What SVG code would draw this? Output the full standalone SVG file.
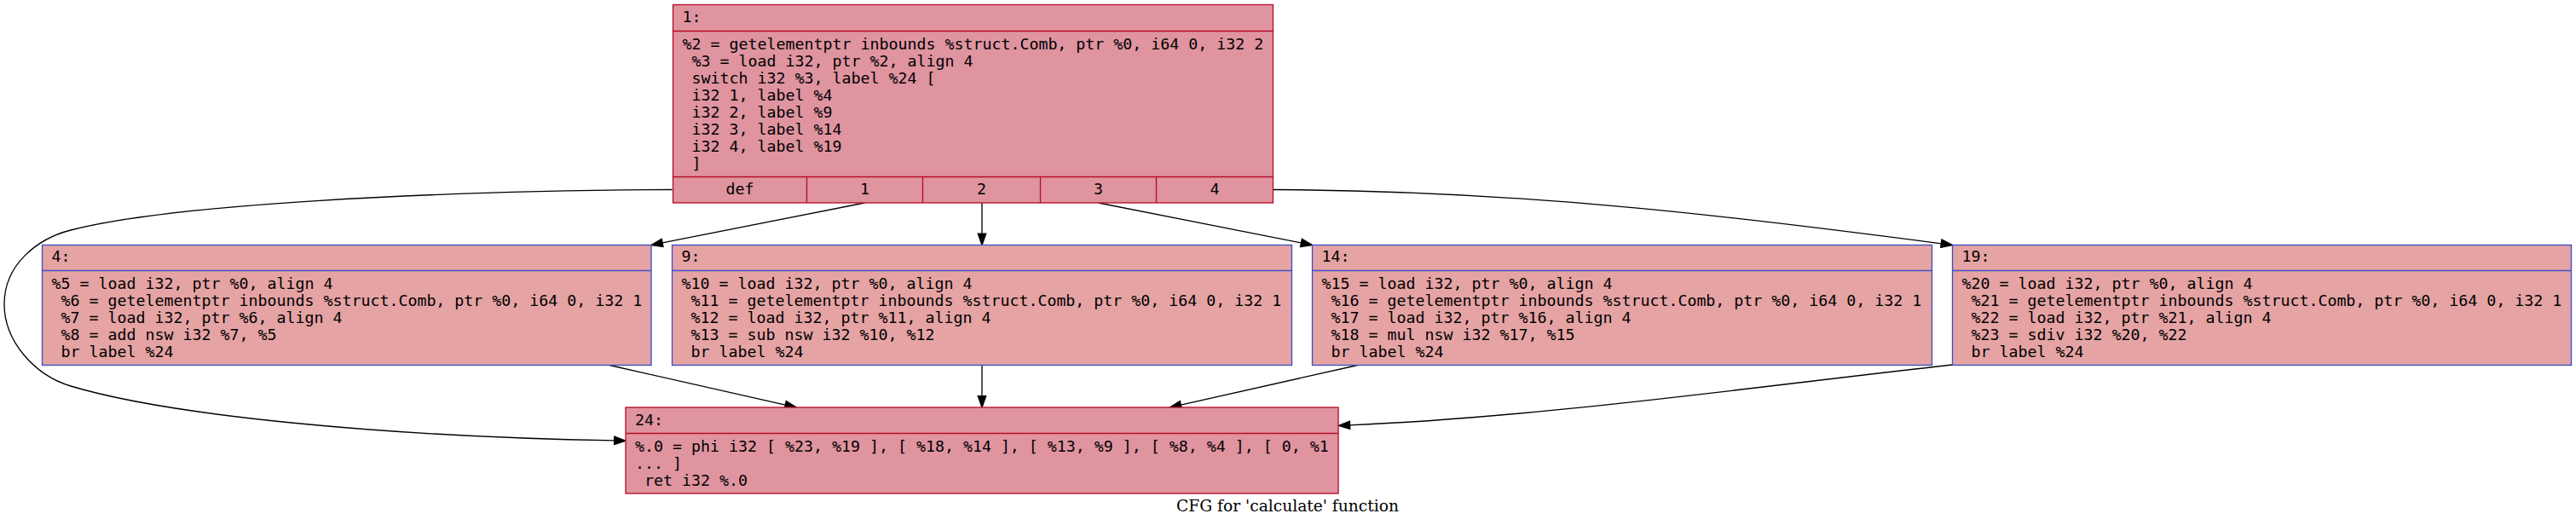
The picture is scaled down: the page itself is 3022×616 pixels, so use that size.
<svg xmlns="http://www.w3.org/2000/svg" width="3022" height="616" viewBox="0 0 3022 616">
<style>
.hot{fill:#df94a0;stroke:#b70d28;stroke-width:1.33}
.cold{fill:#e5a3a4;stroke:#3d50c3;stroke-width:1.33}
.hotl{fill:none;stroke:#b70d28;stroke-width:1.33}
.coldl{fill:none;stroke:#3d50c3;stroke-width:1.33}
.t{font-family:"DejaVu Sans Mono","Liberation Mono",monospace;font-size:18.27px;fill:#000}
.c{text-anchor:middle}
.e{fill:none;stroke:#000;stroke-width:1.33}
.a{fill:#000;stroke:#000;stroke-width:1.33}
.title{font-family:"DejaVu Serif","Liberation Serif",serif;font-size:18.67px;fill:#000;text-anchor:middle}
</style>
<rect width="3022" height="616" fill="#fff"/>
<g id="edges">
<path class="e" d="M788.5,222.5 C500,224 200,240 83,270 C44,280 5,310 5,357 C5,400 40,440 83,453 C200,488 450,512 720.7,516.9"/>
<polygon class="a" points="720.8,512.2 734,517.3 720.6,521.6"/>
<path class="e" d="M1014.5,238 L777.1,284.9"/>
<polygon class="a" points="776.2,280.3 764,287.5 778,289.5"/>
<path class="e" d="M1152,238 V274.2"/>
<polygon class="a" points="1147.3,274.2 1152,287.5 1156.7,274.2"/>
<path class="e" d="M1288.5,238 L1526.45,284.93"/>
<polygon class="a" points="1525.55,289.5 1539.5,287.5 1527.35,280.35"/>
<path class="e" d="M1493.5,222.5 C1800,224 2050,256 2277.3,285.8"/>
<polygon class="a" points="2276.7,290.4 2290.5,287.5 2277.9,281.1"/>
<path class="e" d="M715,428.5 L921.3,475.07"/>
<polygon class="a" points="920.3,479.6 934.3,478 922.3,470.5"/>
<path class="e" d="M1152,428.5 V464.7"/>
<polygon class="a" points="1147.3,464.7 1152,478 1156.7,464.7"/>
<path class="e" d="M1592.7,428.5 L1385.3,475.08"/>
<polygon class="a" points="1386.3,479.6 1372.3,478 1384.3,470.5"/>
<path class="e" d="M2290.5,428 C2050,455 1800,490 1583.6,498.8"/>
<polygon class="a" points="1583.8,503.45 1570.3,499.3 1583.4,494.1"/>
</g>
<g id="node1">
<rect class="hot" x="789.5" y="5.5" width="704" height="232.5"/>
<path class="hotl" d="M789.5,36.5 H1493.5 M789.5,207.5 H1493.5 M946.5,207.5 V238 M1082.5,207.5 V238 M1220.5,207.5 V238 M1356.5,207.5 V238"/>
<text class="t" x="800.5" y="26">1:</text>
<text class="t" x="800.5" y="57.5">%2 = getelementptr inbounds %struct.Comb, ptr %0, i64 0, i32 2</text>
<text class="t" x="811.5" y="77.5">%3 = load i32, ptr %2, align 4</text>
<text class="t" x="811.5" y="97.5">switch i32 %3, label %24 [</text>
<text class="t" x="811.5" y="117.5">i32 1, label %4</text>
<text class="t" x="811.5" y="137.5">i32 2, label %9</text>
<text class="t" x="811.5" y="157.5">i32 3, label %14</text>
<text class="t" x="811.5" y="177.5">i32 4, label %19</text>
<text class="t" x="811.5" y="197.5">]</text>
<text class="t c" x="868" y="227.5">def</text>
<text class="t c" x="1014.5" y="227.5">1</text>
<text class="t c" x="1151.5" y="227.5">2</text>
<text class="t c" x="1288.5" y="227.5">3</text>
<text class="t c" x="1425" y="227.5">4</text>
</g>
<g id="node4">
<rect class="cold" x="49.5" y="287.5" width="714.5" height="141"/>
<path class="coldl" d="M49.5,317.5 H764"/>
<text class="t" x="60.5" y="307">4:</text>
<text class="t" x="60.5" y="338.5">%5 = load i32, ptr %0, align 4</text>
<text class="t" x="71.5" y="358.5">%6 = getelementptr inbounds %struct.Comb, ptr %0, i64 0, i32 1</text>
<text class="t" x="71.5" y="378.5">%7 = load i32, ptr %6, align 4</text>
<text class="t" x="71.5" y="398.5">%8 = add nsw i32 %7, %5</text>
<text class="t" x="71.5" y="418.5">br label %24</text>
</g>
<g id="node9">
<rect class="cold" x="788.5" y="287.5" width="727" height="141"/>
<path class="coldl" d="M788.5,317.5 H1515.5"/>
<text class="t" x="799.5" y="307">9:</text>
<text class="t" x="799.5" y="338.5">%10 = load i32, ptr %0, align 4</text>
<text class="t" x="810.5" y="358.5">%11 = getelementptr inbounds %struct.Comb, ptr %0, i64 0, i32 1</text>
<text class="t" x="810.5" y="378.5">%12 = load i32, ptr %11, align 4</text>
<text class="t" x="810.5" y="398.5">%13 = sub nsw i32 %10, %12</text>
<text class="t" x="810.5" y="418.5">br label %24</text>
</g>
<g id="node14">
<rect class="cold" x="1539.5" y="287.5" width="727" height="141"/>
<path class="coldl" d="M1539.5,317.5 H2266.5"/>
<text class="t" x="1550.5" y="307">14:</text>
<text class="t" x="1550.5" y="338.5">%15 = load i32, ptr %0, align 4</text>
<text class="t" x="1561.5" y="358.5">%16 = getelementptr inbounds %struct.Comb, ptr %0, i64 0, i32 1</text>
<text class="t" x="1561.5" y="378.5">%17 = load i32, ptr %16, align 4</text>
<text class="t" x="1561.5" y="398.5">%18 = mul nsw i32 %17, %15</text>
<text class="t" x="1561.5" y="418.5">br label %24</text>
</g>
<g id="node19">
<rect class="cold" x="2290.5" y="287.5" width="726" height="141"/>
<path class="coldl" d="M2290.5,317.5 H3016.5"/>
<text class="t" x="2301.5" y="307">19:</text>
<text class="t" x="2301.5" y="338.5">%20 = load i32, ptr %0, align 4</text>
<text class="t" x="2312.5" y="358.5">%21 = getelementptr inbounds %struct.Comb, ptr %0, i64 0, i32 1</text>
<text class="t" x="2312.5" y="378.5">%22 = load i32, ptr %21, align 4</text>
<text class="t" x="2312.5" y="398.5">%23 = sdiv i32 %20, %22</text>
<text class="t" x="2312.5" y="418.5">br label %24</text>
</g>
<g id="node24">
<rect class="hot" x="734" y="478" width="836" height="101"/>
<path class="hotl" d="M734,508.5 H1570"/>
<text class="t" x="745" y="498.5">24:</text>
<text class="t" x="745" y="529.5">%.0 = phi i32 [ %23, %19 ], [ %18, %14 ], [ %13, %9 ], [ %8, %4 ], [ 0, %1</text>
<text class="t" x="745" y="549.5">... ]</text>
<text class="t" x="756" y="569.5">ret i32 %.0</text>
</g>
<text class="title" x="1510.5" y="600">CFG for 'calculate' function</text>
</svg>
